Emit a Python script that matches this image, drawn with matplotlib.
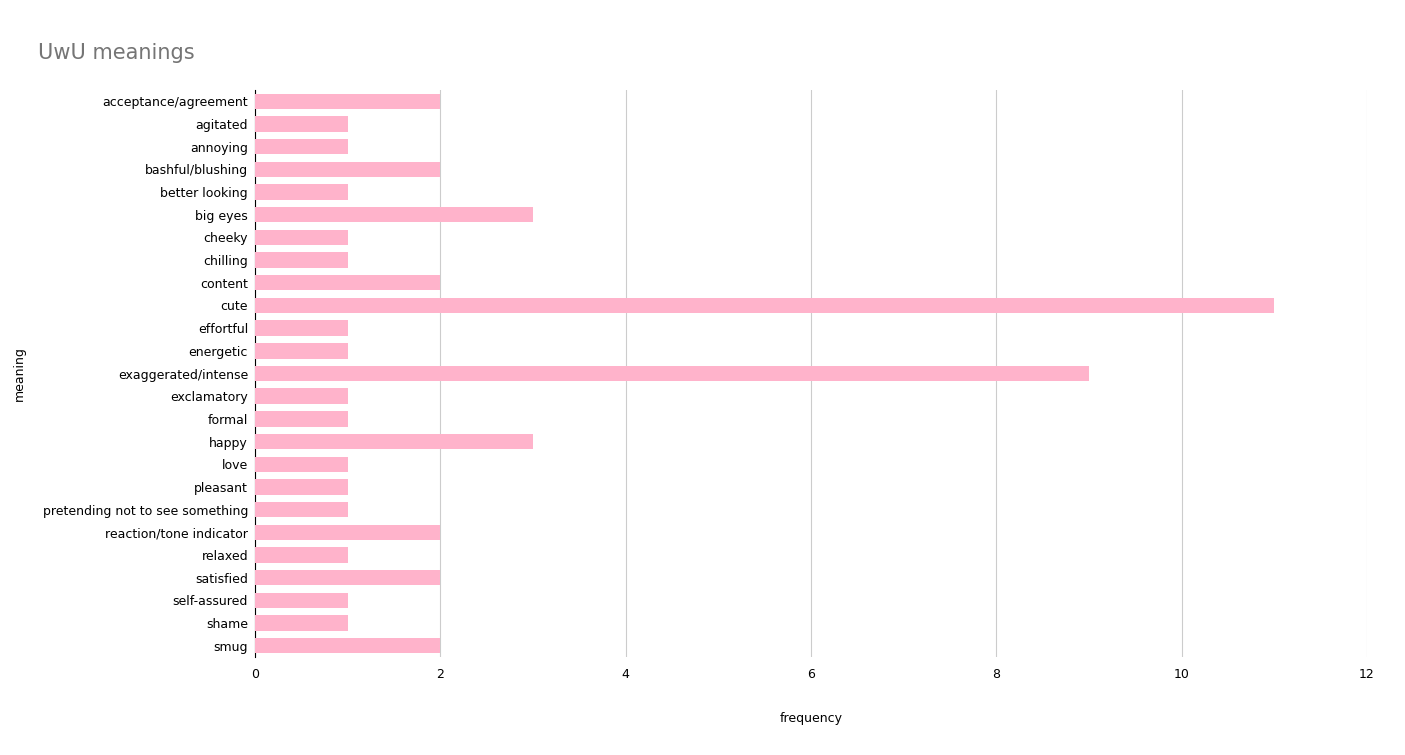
import matplotlib
matplotlib.use("Agg")
import matplotlib.pyplot as plt

categories = ["acceptance/agreement","agitated","annoying","bashful/blushing","better looking",
"big eyes","cheeky","chilling","content","cute","effortful","energetic","exaggerated/intense",
"exclamatory","formal","happy","love","pleasant","pretending not to see something",
"reaction/tone indicator","relaxed","satisfied","self-assured","shame","smug"]
values = [2,1,1,2,1,3,1,1,2,11,1,1,9,1,1,3,1,1,1,2,1,2,1,1,2]
xticks = [0,2,4,6,8,10,12]

fig = plt.figure(figsize=(14.05,7.55), dpi=100)
ax = fig.add_axes([255/1405, 1-657/755, (1367-255)/1405, (657-90)/755])
y = list(range(len(categories)))
ax.barh(y, values, height=0.68, color="#ffb3cb", zorder=3)
ax.set_ylim(len(categories)-0.5, -0.5)
ax.set_xlim(0,12)
ax.set_xticks(xticks)
ax.set_yticks(y)
ax.set_yticklabels(categories, fontsize=9)
ax.tick_params(axis='x', labelsize=9, length=0, pad=8)
ax.tick_params(axis='y', length=0, pad=5)
ax.grid(axis='x', color="#cccccc", linewidth=0.8, zorder=0)
for s in ["top","right","bottom"]:
    ax.spines[s].set_visible(False)
ax.spines["left"].set_color("black")
ax.set_xlabel("frequency", fontsize=9, labelpad=22)
ax.set_ylabel("meaning", fontsize=9, labelpad=12)
fig.text(38/1405, 1-53/755, "UwU meanings", fontsize=15, color="#757575", va="center")
fig.savefig("out.png", dpi=100)
